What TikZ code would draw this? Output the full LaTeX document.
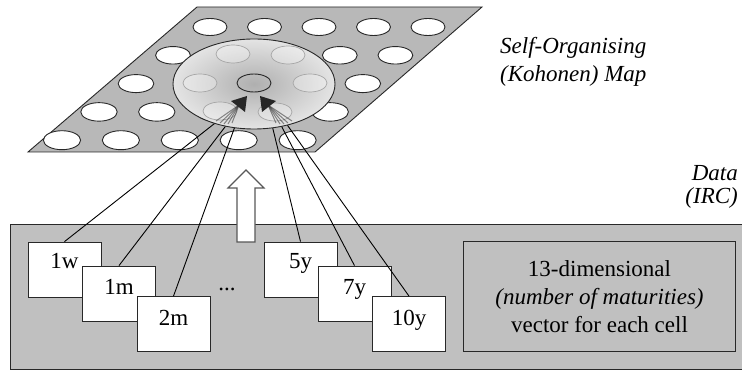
\documentclass[tikz,border=0pt]{standalone}
\usepackage{fontspec}
\setmainfont{Liberation Serif}
\usetikzlibrary{shapes.geometric}
\definecolor{platefill}{RGB}{184,184,184}
\definecolor{datafill}{RGB}{192,192,192}
\definecolor{cin}{RGB}{175,175,175}
\definecolor{cout}{RGB}{228,228,228}
\definecolor{edge}{RGB}{40,40,40}
\begin{document}
\begin{tikzpicture}[x=1pt,y=-1pt,
  hole/.style={draw=edge,fill=white,line width=0.9pt},
  ghost/.style={draw=gray!70,fill=white,fill opacity=0.3,line width=0.7pt},
  somdisc/.style={ellipse,draw=edge,line width=0.9pt,minimum width=162pt,minimum height=90pt,inner sep=0pt,inner color=cin,outer color=cout},
  mbox/.style={draw=edge,fill=white,line width=0.8pt,minimum width=73pt,minimum height=55pt,inner sep=0pt},
  lbl/.style={font=\fontsize{23}{28}\selectfont,anchor=base,inner sep=0pt},
  conn/.style={draw=black,line width=0.9pt},
  fan/.style={draw=gray!40!black,line width=1pt,opacity=0.55},
  fanhead/.style={fill=gray!30!black,draw=none}]
\clip (0,0) rectangle (742,371);
\fill[white] (0,0) rectangle (742,371);
% the map plate
\filldraw[fill=platefill,draw=edge,line width=0.9pt] (197,7) -- (482,7) -- (315,152) -- (28,152) -- cycle;
\foreach \i in {0,...,4}{
  \foreach \j in {0,...,4}{
    \pgfmathsetmacro{\cx}{210-37*\i+(54.5+1.1*\i)*\j}
    \pgfmathsetmacro{\cy}{27+28.3*\i}
    \pgfmathsetmacro{\rx}{17+0.4*\i}
    \pgfmathsetmacro{\ry}{8.5+0.25*\i}
    \draw[hole] (\cx,\cy) ellipse [x radius=\rx pt, y radius=\ry pt];
  }
}
% neighbourhood disc
\node[somdisc] (som) at (254,84) {};
\foreach \p in {(233,54),(288,55),(200,83),(310,83),(220,111),(275,112)}
  \draw[ghost] \p ellipse [x radius=17pt, y radius=9pt];
\draw[draw=edge,line width=0.9pt] (254,83) ellipse [x radius=17pt, y radius=9pt];
% converging arrows
\foreach \s in {(216,121),(220,123),(224,124),(228,124),(232,123)}
  \draw[fan] \s -- (239,105);
\fill[fanhead] (231,101) -- (247,96) -- (245,112) -- cycle;
\foreach \s in {(292,121),(288,123),(284,124),(280,124),(276,123)}
  \draw[fan] \s -- (268,105);
\fill[fanhead] (276,101) -- (260,96) -- (262,112) -- cycle;
% data block
\node[draw=edge,fill=datafill,line width=0.9pt,minimum width=745pt,minimum height=145pt,inner sep=0pt,anchor=north west] (data) at (10,224) {};
\node[draw=edge,fill=datafill,line width=0.8pt,minimum width=272pt,minimum height=110pt,inner sep=0pt,align=center,font=\fontsize{23}{28}\selectfont] (vec) at (599.5,296.5)
  {13-dimensional\\\textit{(number of maturities)}\\vector for each cell};
% maturity boxes
\node[mbox] (b1w) at (64.5,269.5) {};
\node[mbox] (b1m) at (119,293.5) {};
\node[mbox] (b2m) at (173.5,324) {};
\node[mbox] (b5y) at (300.5,269.5) {};
\node[mbox] (b7y) at (354.5,293.5) {};
\node[mbox] (b10y) at (409,324) {};
\node[lbl] (t1w) at (64.5,269) {1w};
\node[lbl] (t1m) at (119,295) {1m};
\node[lbl] (t2m) at (173.5,326) {2m};
\node[lbl] (t5y) at (300.5,269) {5y};
\node[lbl] (t7y) at (354.5,295) {7y};
\node[lbl] (t10y) at (409,326) {10y};
\node[lbl] (dots) at (227,291) {...};
% connectors
\draw[conn] (som.225) -- (b1w.north);
\draw[conn] (som.236) -- (b1m.north);
\draw[conn] (som.246) -- (b2m.north);
\draw[conn] (som.293) -- (b5y.north);
\draw[conn] (som.303) -- (b7y.north);
\draw[conn] (som.309) -- (b10y.north);
% hollow arrow
\filldraw[fill=white,draw=gray!70!black,line width=1.2pt] (237,242) -- (237,188) -- (228,188) -- (246,170) -- (264,188) -- (255,188) -- (255,242) -- cycle;
% captions
\node[font=\fontsize{23}{28}\selectfont\itshape,align=left,anchor=base west,inner sep=0pt] (somtitle) at (500,82) {Self-Organising\\(Kohonen) Map};
\node[font=\fontsize{23}{23}\selectfont\itshape,align=right,anchor=base east,inner sep=0pt] (datatitle) at (738,204) {Data\\(IRC)};
\end{tikzpicture}
\end{document}
